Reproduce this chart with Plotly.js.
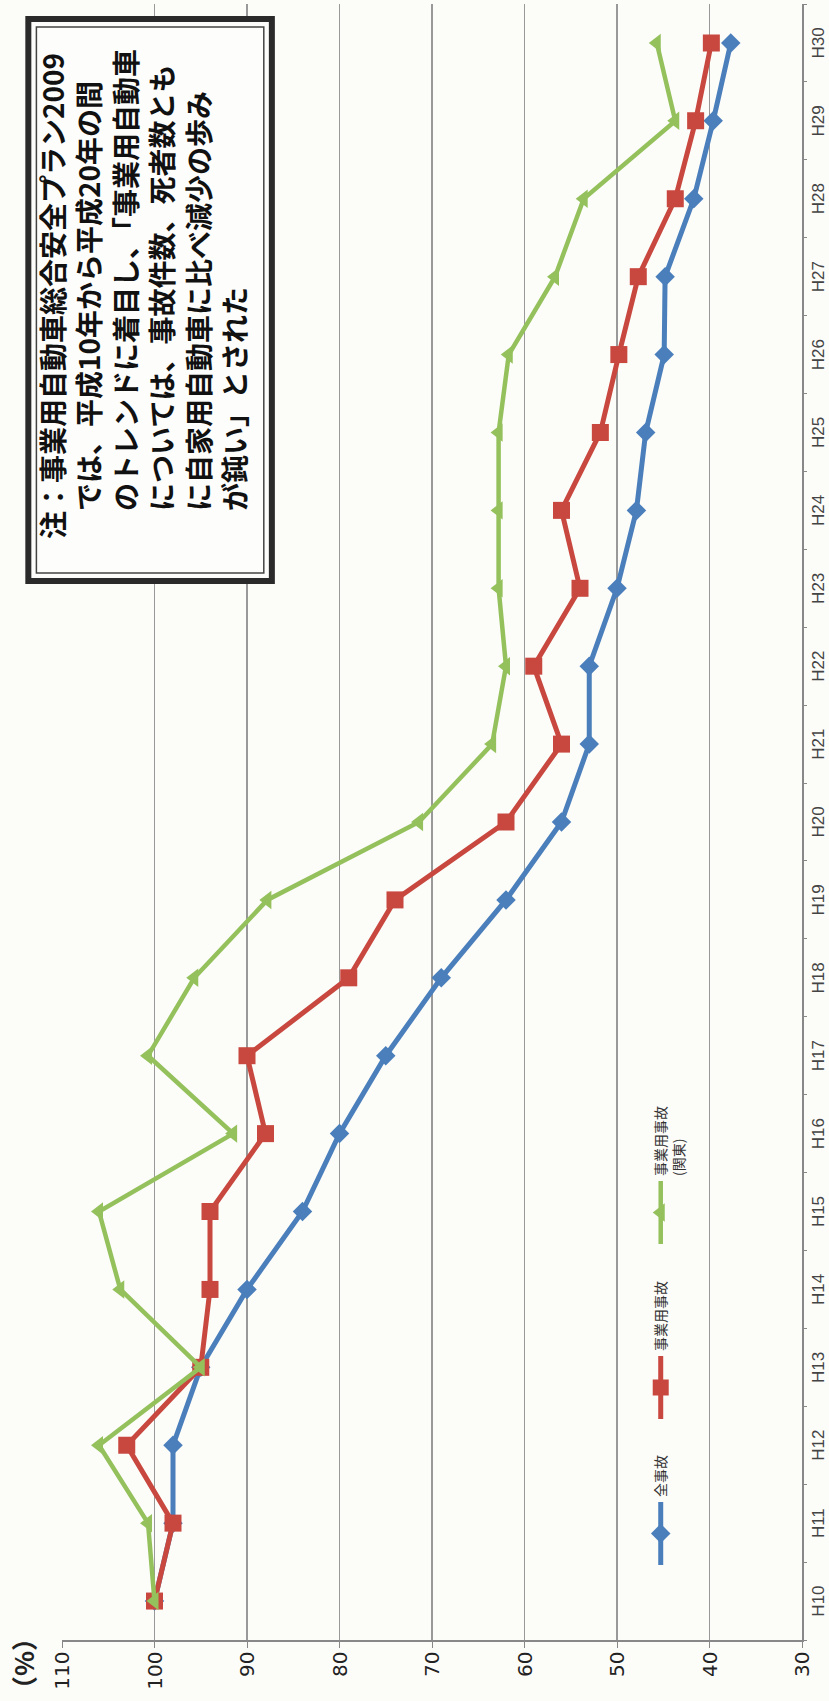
<!DOCTYPE html>
<html><head><meta charset="utf-8">
<script src="https://cdn.plot.ly/plotly-3.0.1.min.js"></script>
<style>
html,body{margin:0;padding:0;background:#fcfcf9;overflow:hidden;width:829px;height:1701px;}
#wrap{position:absolute;left:0;top:0;width:1701px;height:829px;transform-origin:0 0;}
</style></head><body>
<div id="wrap"><div id="chart" style="width:1701px;height:829px"></div></div>
<script>
const categories = ['H10','H11','H12','H13','H14','H15','H16','H17','H18','H19','H20','H21','H22','H23','H24','H25','H26','H27','H28','H29','H30'];
const allAccidents = [100, 98, 98, 95, 90, 84, 80, 75, 69, 62, 56, 53, 53, 50, 47.9, 46.9, 44.9, 44.8, 41.7, 39.6, 37.7];
const businessAccidents = [100, 98, 103, 95, 94, 94, 88, 90, 79, 74, 62, 56, 59, 54, 56, 51.8, 49.8, 47.7, 43.7, 41.5, 39.8];
const businessKanto = [100, 100.7, 106, 95, 103.7, 106, 91.5, 100.7, 95.7, 87.8, 71.4, 63.5, 62, 62.8, 62.8, 62.8, 61.7, 56.7, 53.6, 43.7, 45.7];
const seriesNames = ['全事故', '事業用事故', '事業用事故<br>(関東)'];
const yTickValues = [30, 40, 50, 60, 70, 80, 90, 100, 110];
const yAxisTitle = '（%）';
const noteLines = [
  '注：事業用自動車総合安全プラン2009',
  '　では、平成10年から平成20年の間',
  '　のトレンドに着目し、「事業用自動車',
  '　については、事故件数、死者数とも',
  '　に自家用自動車に比べ減少の歩み',
  '　が鈍い」とされた'
];

const traces = [
  {x: categories, y: allAccidents, name: seriesNames[0], type: 'scatter', mode: 'lines+markers', legend: 'legend',
   line: {color: '#4a7fbb', width: 5}, marker: {symbol: 'diamond', size: 15, color: '#4a7fbb'}},
  {x: categories, y: businessAccidents, name: seriesNames[1], type: 'scatter', mode: 'lines+markers', legend: 'legend2',
   line: {color: '#c8483f', width: 5}, marker: {symbol: 'square', size: 17, color: '#c8483f'}},
  {x: categories, y: businessKanto, name: seriesNames[2], type: 'scatter', mode: 'lines+markers', legend: 'legend3',
   line: {color: '#94c15c', width: 4.5}, marker: {symbol: 'triangle-up', size: 16, color: '#94c15c'}}
];

function legendAt(x) {
  return {orientation: 'h', x: x, y: 0.212, xanchor: 'left', yanchor: 'top', valign: 'top',
          font: {family: 'Noto Sans CJK JP', size: 14, color: '#333'}, bgcolor: 'rgba(0,0,0,0)', itemwidth: 63};
}

const layout = {
  width: 1701, height: 829, autosize: false,
  margin: {l: 61, r: 4, t: 62, b: 27},
  paper_bgcolor: '#fcfcf9', plot_bgcolor: '#fcfcf9',
  font: {family: 'Liberation Sans, Arial, sans-serif', color: '#333'},
  showlegend: true,
  legend: legendAt(0.0428),
  legend2: legendAt(0.132),
  legend3: legendAt(0.239),
  xaxis: {type: 'category', range: [-0.5, 20.5], tickson: 'boundaries', ticks: 'outside', ticklen: 3,
          tickcolor: '#888', showline: true, linecolor: '#888', linewidth: 1.5, showgrid: false,
          tickfont: {size: 17, color: '#444', family: 'Liberation Sans, Arial, sans-serif'}, automargin: false},
  yaxis: {range: [30, 110], tickvals: yTickValues, ticks: 'outside', ticklen: 6, tickcolor: '#888',
          showline: true, linecolor: '#888', linewidth: 1.5, showgrid: true, gridcolor: '#999', gridwidth: 1.3,
          zeroline: false, tickfont: {size: 20, color: '#222', family: 'DejaVu Sans, sans-serif'}, automargin: false},
  shapes: [
    {type: 'rect', xref: 'paper', yref: 'paper', x0: 0.6473, x1: 0.9908, y0: 0.7164, y1: 1.0455,
     line: {color: '#2a2a2a', width: 6}, fillcolor: '#fdfdfb', layer: 'above'},
    {type: 'rect', xref: 'paper', yref: 'paper', x0: 0.6522, x1: 0.9859, y0: 0.7273, y1: 1.0346,
     line: {color: '#444', width: 1.5}, fillcolor: 'rgba(0,0,0,0)', layer: 'above'}
  ],
  annotations: [
    {xref: 'paper', yref: 'paper', x: -0.0146, y: 1.054, xanchor: 'center', yanchor: 'middle', showarrow: false,
     text: yAxisTitle, font: {family: 'Noto Sans CJK JP', size: 26, color: '#222', weight: 700}},
    {xref: 'paper', yref: 'paper', x: 0.672, y: 0.891, xanchor: 'left', yanchor: 'middle', align: 'left', showarrow: false,
     text: noteLines.join('<br>'), font: {family: 'Noto Sans CJK JP', size: 28, color: '#111', weight: 700}}
  ]
};

Plotly.newPlot('chart', traces, layout, {displayModeBar: false, staticPlot: true}).then(function () {
  document.getElementById('wrap').style.transform = 'translate(0px,1701px) rotate(-90deg)';
});
</script>
</body></html>
